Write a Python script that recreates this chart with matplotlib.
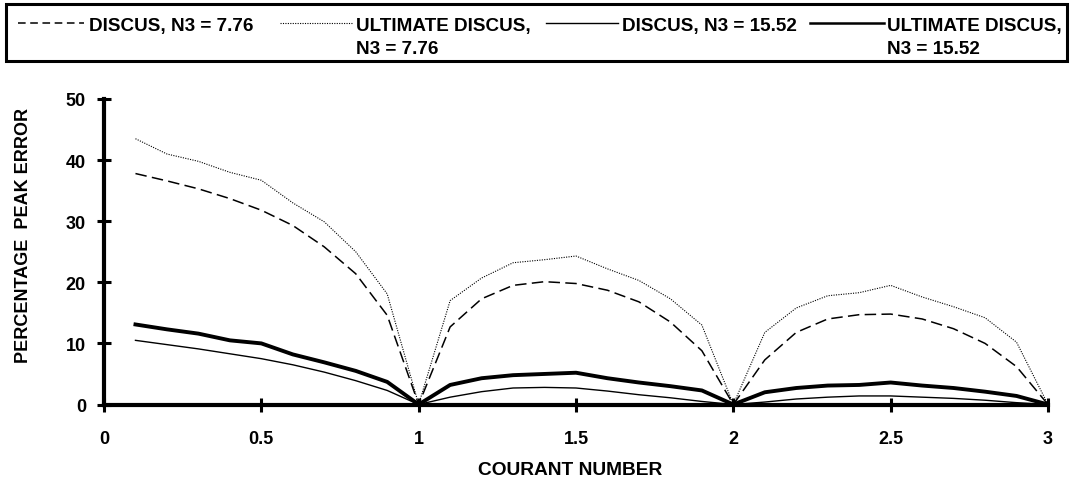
import matplotlib
matplotlib.use("Agg")
import matplotlib.pyplot as plt
from matplotlib.lines import Line2D
from matplotlib.patches import Rectangle

courant = [0.1, 0.2, 0.3, 0.4, 0.5, 0.6, 0.7, 0.8, 0.9, 1.0,
           1.1, 1.2, 1.3, 1.4, 1.5, 1.6, 1.7, 1.8, 1.9, 2.0,
           2.1, 2.2, 2.3, 2.4, 2.5, 2.6, 2.7, 2.8, 2.9, 3.0]

discus_776 = [37.8, 36.6, 35.3, 33.7, 31.8, 29.3, 25.8, 21.4, 14.6, 0.0,
              12.7, 17.3, 19.5, 20.1, 19.8, 18.7, 16.8, 13.5, 8.8, 0.0,
              7.3, 11.8, 14.0, 14.7, 14.8, 14.0, 12.4, 10.0, 6.2, 0.0]

ultimate_776 = [43.5, 41.0, 39.8, 38.0, 36.7, 33.0, 29.9, 25.0, 18.1, 0.0,
                17.0, 20.7, 23.2, 23.7, 24.3, 22.2, 20.3, 17.3, 13.0, 0.0,
                11.8, 15.8, 17.8, 18.3, 19.5, 17.6, 16.0, 14.2, 10.2, 0.0]

discus_1552 = [10.5, 9.8, 9.1, 8.3, 7.5, 6.5, 5.3, 3.9, 2.3, 0.0,
               1.2, 2.1, 2.7, 2.8, 2.7, 2.2, 1.6, 1.1, 0.5, 0.0,
               0.4, 0.9, 1.2, 1.4, 1.4, 1.2, 1.0, 0.7, 0.3, 0.0]

ultimate_1552 = [13.1, 12.3, 11.6, 10.5, 10.0, 8.2, 6.9, 5.5, 3.7, 0.0,
                 3.2, 4.3, 4.8, 5.0, 5.2, 4.3, 3.6, 3.0, 2.3, 0.0,
                 2.0, 2.7, 3.1, 3.2, 3.6, 3.1, 2.7, 2.1, 1.4, 0.0]

x_ticks = [0, 0.5, 1, 1.5, 2, 2.5, 3]
x_tick_labels = ["0", "0.5", "1", "1.5", "2", "2.5", "3"]
y_ticks = [0, 10, 20, 30, 40, 50]

legend_labels = [["DISCUS, N3 = 7.76"],
                 ["ULTIMATE DISCUS,", "N3 = 7.76"],
                 ["DISCUS, N3 = 15.52"],
                 ["ULTIMATE DISCUS,", "N3 = 15.52"]]

plt.rcParams["font.family"] = ["Liberation Sans", "DejaVu Sans"]
plt.rcParams["font.weight"] = "bold"

fig = plt.figure(figsize=(10.70, 4.81), dpi=100)

styles = [
    dict(color="black", lw=1.1, linestyle=(0, (7.5, 3.5))),
    dict(color="black", lw=0.8, linestyle=(0, (1, 1.2))),
    dict(color="black", lw=1.0, linestyle="-"),
    dict(color="black", lw=2.8, linestyle="-"),
]
series = [discus_776, ultimate_776, discus_1552, ultimate_1552]

ax = fig.add_axes([104 / 1070, 1 - 405.5 / 481, (1048 - 104) / 1070, (405.5 - 100) / 481])
for s, st in zip(series, styles):
    ax.plot(courant, s, **st, solid_joinstyle="round")
ax.set_xlim(0, 3)
ax.set_ylim(0, 50)
ax.set_xticks(x_ticks)
ax.set_xticklabels(x_tick_labels)
ax.set_yticks(y_ticks)
for side in ("top", "right"):
    ax.spines[side].set_visible(False)
for side in ("left", "bottom"):
    ax.spines[side].set_linewidth(3)
ax.tick_params(axis="both", direction="inout", length=10, width=2.2, labelsize=13)
ax.tick_params(axis="x", pad=13.5)
ax.tick_params(axis="y", pad=8)
for lab in ax.get_xticklabels() + ax.get_yticklabels():
    lab.set_fontweight("bold")
ax.set_xlabel("COURANT NUMBER", fontsize=13.8, fontweight="bold")
ax.xaxis.set_label_coords((570 - 104) / 944, (405.5 - 462) / 305.5)
ax.set_ylabel("PERCENTAGE  PEAK ERROR", fontsize=13, fontweight="bold")
ax.yaxis.set_label_coords((32 - 104) / 944, (405.5 - 235) / 305.5)
ax.patch.set_alpha(0)

# legend box drawn in pixel coordinates
lg = fig.add_axes([0, 0, 1, 1])
lg.set_xlim(0, 1070)
lg.set_ylim(481, 0)
lg.axis("off")
lg.add_patch(Rectangle((6, 5), 1061, 57, fill=False, lw=2.2, edgecolor="black"))
leg_styles = [
    dict(color="black", lw=1.1, linestyle=(0, (5, 3))),
    styles[1], styles[2], dict(color="black", lw=1.8, linestyle="-"),
]
handle_x = [(18, 84), (280, 352), (546, 618), (810, 884)]
text_x = [89, 356, 622, 887]
for (x0, x1), tx, st, lines in zip(handle_x, text_x, leg_styles, legend_labels):
    lg.add_line(Line2D([x0, x1], [24, 24], **st))
    for i, line in enumerate(lines):
        lg.text(tx, 31.5 + 22.5 * i, line, fontsize=13.6, fontweight="bold",
                va="baseline", ha="left")

fig.savefig("out.png", dpi=100)
